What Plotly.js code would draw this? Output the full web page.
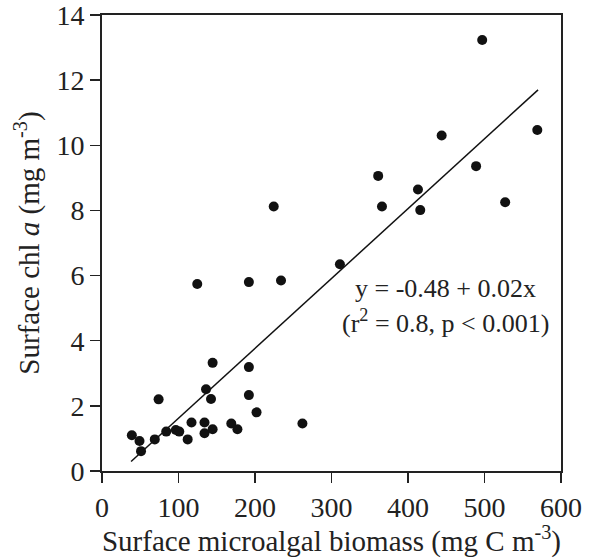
<!DOCTYPE html>
<html>
<head>
<meta charset="utf-8">
<script src="https://cdn.plot.ly/plotly-3.0.1.min.js"></script>
<style>html,body{margin:0;padding:0;background:#fff;}#chart{width:591px;height:558px;}</style>
</head>
<body>
<div id="chart"></div>
<script>
// Surface microalgal biomass (mg C m-3)
const biomass = [39, 49, 51, 69, 74, 84, 96.5, 101, 112, 117, 134, 134, 144.6, 136, 142.5, 169, 177, 192, 202, 262,
                 124.5, 192, 234, 311, 144.6, 192,
                 497, 569, 444, 489, 361, 413, 366, 416, 527, 224.5];
// Surface chl a (mg m-3)
const chla = [1.10, 0.92, 0.61, 0.97, 2.20, 1.21, 1.26, 1.21, 0.97, 1.49, 1.49, 1.16, 1.28, 2.51, 2.21, 1.46, 1.28, 2.33, 1.80, 1.46,
              5.74, 5.80, 5.85, 6.35, 3.32, 3.19,
              13.23, 10.47, 10.30, 9.36, 9.06, 8.64, 8.12, 8.01, 8.25, 8.12];
// Regression line endpoints as drawn
const fitX = [38, 570];
const fitY = [0.29, 11.70];
const xTicks = [0, 100, 200, 300, 400, 500, 600];
const yTicks = [0, 2, 4, 6, 8, 10, 12, 14];
const eqLines = ["y = -0.48 + 0.02x", "(r<sup>2</sup> = 0.8, p &lt; 0.001)"];

const font = "Liberation Serif, Times New Roman, serif";
const traces = [
  {x: fitX, y: fitY, mode: "lines", type: "scatter", line: {color: "#111", width: 1.5}, hoverinfo: "skip"},
  {x: biomass, y: chla, mode: "markers", type: "scatter", marker: {color: "#111", size: 10}}
];
const axisCommon = {
  showline: true, linecolor: "#222", linewidth: 2, mirror: true,
  ticks: "outside", ticklen: 10, tickwidth: 1.5, tickcolor: "#222",
  showgrid: false, zeroline: false, ticklabeloverflow: "allow",
  tickfont: {family: font, size: 28, color: "#222"}
};
const layout = {
  width: 591, height: 558,
  margin: {l: 102, r: 30, t: 15, b: 87},
  paper_bgcolor: "#fff", plot_bgcolor: "#fff",
  showlegend: false,
  font: {family: font, color: "#222"},
  xaxis: Object.assign({}, axisCommon, {
    range: [0, 600], tickvals: xTicks, ticktext: xTicks.map(String),
    title: {text: "Surface microalgal biomass (mg C m<sup>-3</sup>)", font: {family: font, size: 29, color: "#222"}, standoff: 6}
  }),
  yaxis: Object.assign({}, axisCommon, {
    range: [0, 14], tickvals: yTicks, ticktext: yTicks.map(String),
    title: {text: "Surface chl <i>a</i> (mg m<sup>-3</sup>)", font: {family: font, size: 29, color: "#222"}, standoff: 8}
  }),
  annotations: [
    {xref: "paper", yref: "paper", x: 0.749, y: 0.401, text: eqLines[0], showarrow: false,
     font: {family: font, size: 26, color: "#222"}, xanchor: "center", yanchor: "middle"},
    {xref: "paper", yref: "paper", x: 0.749, y: 0.327, text: eqLines[1], showarrow: false,
     font: {family: font, size: 26, color: "#222"}, xanchor: "center", yanchor: "middle"}
  ]
};
Plotly.newPlot("chart", traces, layout, {displayModeBar: false, staticPlot: true});
</script>
</body>
</html>
